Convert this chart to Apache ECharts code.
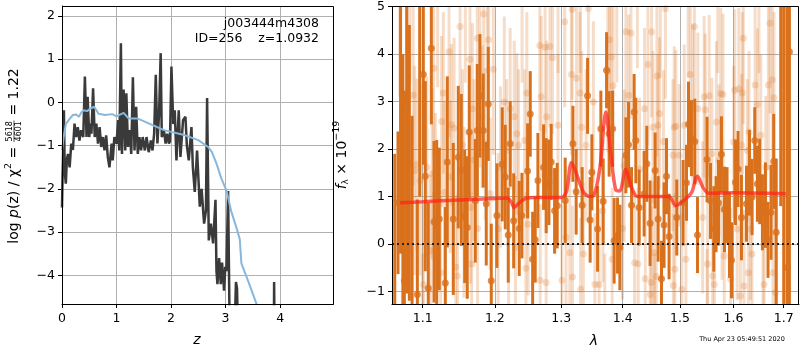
<!DOCTYPE html>
<html>
<head>
<meta charset="utf-8">
<script src="https://cdn.jsdelivr.net/npm/echarts@6/dist/echarts.min.js"></script>
<style>
  html, body { margin: 0; padding: 0; background: #fff; }
  #chart { width: 800px; height: 350px; }
</style>
</head>
<body>
<div id="chart"></div>
<script>
// ---- left panel: log p(z) ----
const pzZ = [0.00, 0.01, 0.02, 0.035, 0.05, 0.07, 0.09, 0.11, 0.14, 0.17,
  0.20, 0.23, 0.26, 0.29, 0.32, 0.35, 0.39, 0.42, 0.45, 0.47,
  0.50, 0.52, 0.54, 0.57, 0.60, 0.63, 0.66, 0.69, 0.72, 0.75,
  0.78, 0.81, 0.84, 0.87, 0.91, 0.93, 0.96, 1.00, 1.03, 1.05,
  1.08, 1.10, 1.13, 1.16, 1.18, 1.21, 1.24, 1.27, 1.30, 1.33,
  1.36, 1.39, 1.42, 1.45, 1.48, 1.52, 1.55, 1.59, 1.63, 1.66,
  1.69, 1.72, 1.75, 1.78, 1.81, 1.83, 1.87, 1.90, 1.93, 1.96,
  1.98, 2.007, 2.04, 2.068, 2.099, 2.141, 2.172, 2.22, 2.264, 2.29,
  2.325, 2.374, 2.40, 2.435, 2.477, 2.527, 2.56, 2.606, 2.64, 2.661,
  2.692, 2.73, 2.771, 2.815, 2.833, 2.851, 2.881, 2.912, 2.935, 2.954,
  2.972, 2.995, 3.016, 3.046, 3.077, 3.15, 3.19, 3.21, 3.23, 3.30,
  3.88, 3.89, 3.91]
const pzLog = [-2.43, -1.73, -1.20, -0.18, -1.60, -1.88, -1.30, -1.19, -1.50, -0.95,
  -1.10, -0.49, -0.80, -0.57, -0.88, -0.64, -0.80, 0.60, -0.80, 0.13,
  -0.80, -0.49, -0.72, 0.33, -0.80, -0.49, -0.95, -0.57, -1.03, -0.80,
  -1.11, -0.76, -1.26, -1.50, -0.95, -1.34, -0.80, -0.95, -0.41, -1.11,
  1.37, -1.19, 0.30, -1.11, 0.21, -1.03, -0.64, -1.19, 0.58, -1.11,
  -0.10, -1.19, -0.80, -1.11, -0.80, -1.11, -0.80, -1.15, -0.88, -1.11,
  -0.72, 0.64, -0.95, -0.26, 1.14, -0.80, -0.64, -0.95, -0.72, -0.95,
  -0.90, 0.83, -0.50, -0.18, -1.34, -0.18, -1.26, -0.41, -0.33, -1.00,
  -1.34, -0.57, -1.50, -2.07, -1.11, -2.41, -2.00, -2.80, -2.50, 0.10,
  -3.19, -2.80, -3.26, -2.25, -3.90, -4.20, -3.60, -4.20, -3.70, -4.00,
  -4.35, -3.80, -3.90, -2.05, -5.50, -6.00, -4.15, -4.30, -5.50, -7.00,
  -7.00, -4.15, -7.00]

const smoothZ = [0.00, 0.03, 0.07, 0.14, 0.20, 0.26, 0.31, 0.36, 0.40, 0.46,
  0.52, 0.59, 0.64, 0.67, 0.79, 0.92, 1.00, 1.13, 1.22, 1.38,
  1.60, 1.87, 2.26, 2.50, 2.68, 2.75, 2.83, 2.92, 3.02, 3.10,
  3.20, 3.26, 3.29, 3.42, 3.57, 3.65]
const smoothLog = [-1.10, -0.80, -0.50, -0.38, -0.29, -0.28, -0.33, -0.22, -0.18, -0.20,
  -0.14, -0.10, -0.20, -0.26, -0.29, -0.27, -0.32, -0.24, -0.37, -0.37,
  -0.49, -0.64, -0.76, -0.87, -1.03, -1.15, -1.40, -1.75, -2.05, -2.50,
  -2.90, -3.16, -3.72, -4.15, -4.67, -5.10]

const zTicks = [0, 1, 2, 3, 4]
const pzTicks = [-4, -3, -2, -1, 0, 1, 2]

// ---- right panel: spectrum ----
const darkLam = [1.0635, 1.0677, 1.0710, 1.0740, 1.0759, 1.0790, 1.0824, 1.0860, 1.0929, 1.0960,
  1.1008, 1.1034, 1.1074, 1.1115, 1.1151, 1.1187, 1.1222, 1.1304, 1.1331, 1.1413,
  1.1482, 1.1524, 1.1571, 1.1607, 1.1635, 1.1720, 1.1748, 1.1786, 1.1833, 1.1876,
  1.1905, 1.1948, 1.2030, 1.2107, 1.2151, 1.2195, 1.2224, 1.2275, 1.2358, 1.2398,
  1.2483, 1.2523, 1.2559, 1.2598, 1.2639, 1.2726, 1.2766, 1.2808, 1.2843, 1.2896,
  1.2937, 1.3062, 1.3184, 1.3236, 1.3332, 1.3419, 1.3461, 1.3489, 1.3582, 1.3636,
  1.3674, 1.3730, 1.3773, 1.3830, 1.3856, 1.3913, 1.3952, 1.4053, 1.4099, 1.4150,
  1.4194, 1.4223, 1.4280, 1.4366, 1.4413, 1.4470, 1.4558, 1.4611, 1.4670, 1.4716,
  1.4759, 1.4805, 1.4943, 1.5057, 1.5119, 1.5156, 1.5210, 1.5271, 1.5321, 1.5499,
  1.5563, 1.5625, 1.5668, 1.5714, 1.5770, 1.5828, 1.5877, 1.5923, 1.5962, 1.6039,
  1.6089, 1.6155, 1.6253, 1.6312, 1.6363, 1.6416, 1.6469, 1.6515, 1.6569, 1.6629,
  1.6681, 1.6742, 1.6796, 1.6847, 1.6939, 1.7000, 1.7068, 1.7117]
const darkFlux = [-1.50, 0.87, 5.80, -2.00, -0.77, 2.96, 1.71, -1.80, -1.06, 5.50,
  3.57, 1.43, -0.93, 4.12, 0.47, 0.39, 0.53, -0.82, 1.73, 0.53,
  1.83, 1.56, 0.58, 0.35, 2.36, 0.91, 2.39, 3.12, 2.39, 0.85,
  2.95, -0.77, 0.60, 1.68, 1.41, 0.19, 2.11, 0.49, 0.33, 0.60,
  1.54, 2.74, -0.32, 0.09, 1.34, 1.62, 1.23, 1.30, 1.73, 0.70,
  0.81, 0.92, 2.11, 1.10, 0.82, 3.12, 0.51, 1.51, 0.32, 2.43,
  0.90, 3.66, 2.32, 2.43, 0.07, 0.18, -0.07, 1.87, 2.09, 0.82,
  2.78, 2.18, 0.77, 1.06, 1.69, 0.44, 1.55, 0.53, -0.73, 0.40,
  1.43, 0.16, 0.56, 0.87, 1.29, 2.52, 2.23, 2.16, 0.19, 1.78,
  0.91, 0.32, 0.63, 0.87, 1.89, 0.73, 0.82, 0.19, -0.34, 1.30,
  1.58, 0.56, 0.85, 1.50, 0.99, 2.18, 1.27, 1.32, 0.67, 0.82,
  0.09, 0.67, 1.74, 0.25, 5.80, -1.80, -0.49, 4.05]
const darkErr = [3.4, 1.5, 6.0, 6.0, 4.0, 4.0, 2.9, 4.5, 2.0, 4.5,
  1.9, 2.0, 1.8, 1.6, 1.7, 1.8, 1.5, 1.6, 1.8, 1.6,
  1.5, 1.6, 1.4, 1.5, 1.4, 1.3, 1.4, 1.3, 1.2, 1.3,
  1.2, 1.2, 1.1, 1.2, 1.1, 1.0, 0.9, 1.0, 1.0, 0.9,
  1.0, 0.9, 1.0, 0.9, 1.0, 0.9, 1.0, 0.9, 0.8, 0.9,
  0.9, 0.9, 0.8, 0.9, 0.8, 0.8, 0.9, 0.8, 0.9, 0.8,
  0.9, 0.8, 0.9, 0.8, 0.9, 0.8, 0.9, 0.8, 0.9, 0.8,
  0.8, 0.9, 0.8, 0.9, 0.8, 0.9, 0.8, 0.9, 0.8, 0.9,
  0.8, 0.9, 0.8, 0.9, 0.8, 0.9, 0.8, 0.9, 0.8, 0.9,
  0.8, 0.9, 0.8, 0.9, 0.8, 0.9, 0.8, 0.9, 0.8, 0.9,
  0.8, 0.9, 0.8, 0.9, 0.8, 0.7, 0.8, 0.9, 0.8, 0.9,
  0.8, 1.0, 1.0, 1.55, 5.0, 7.5, 5.5, 5.5]

const lightLam = [1.0789, 1.0874, 1.0894, 1.0924, 1.0966, 1.1008, 1.1055, 1.1101, 1.1125, 1.1147,
  1.1170, 1.1240, 1.1253, 1.1277, 1.1295, 1.1355, 1.1371, 1.1388, 1.1424, 1.1447,
  1.1471, 1.1507, 1.1540, 1.1562, 1.1645, 1.1655, 1.1669, 1.1679, 1.1701, 1.1748,
  1.1752, 1.1784, 1.1817, 1.1839, 1.1863, 1.1909, 1.1932, 1.1978, 1.2047, 1.2081,
  1.2137, 1.2171, 1.2223, 1.2283, 1.2302, 1.2322, 1.2347, 1.2438, 1.2457, 1.2472,
  1.2490, 1.2668, 1.2674, 1.2689, 1.2749, 1.2765, 1.2773, 1.2824, 1.2863, 1.2949,
  1.3010, 1.3054, 1.3075, 1.3135, 1.3161, 1.3172, 1.3177, 1.3242, 1.3298, 1.3307,
  1.3324, 1.3351, 1.3395, 1.3433, 1.3514, 1.3538, 1.3607, 1.3670, 1.3750, 1.3779,
  1.3806, 1.3823, 1.3839, 1.3997, 1.4024, 1.4054, 1.4101, 1.4141, 1.4202, 1.4263,
  1.4286, 1.4374, 1.4386, 1.4433, 1.4473, 1.4490, 1.4496, 1.4520, 1.4531, 1.4578,
  1.4590, 1.4607, 1.4635, 1.4705, 1.4740, 1.4874, 1.4881, 1.4897, 1.4909, 1.4927,
  1.4984, 1.5034, 1.5077, 1.5108, 1.5189, 1.5234, 1.5264, 1.5327, 1.5417, 1.5445,
  1.5464, 1.5510, 1.5538, 1.5589, 1.5604, 1.5636, 1.5675, 1.5725, 1.5757, 1.5781,
  1.5800, 1.5823, 1.5943, 1.6006, 1.6026, 1.6072, 1.6105, 1.6135, 1.6159, 1.6171,
  1.6191, 1.6205, 1.6270, 1.6290, 1.6304, 1.6334, 1.6362, 1.6423, 1.6469, 1.6536,
  1.6602, 1.6636, 1.6688, 1.6722, 1.6767, 1.6781, 1.6801, 1.6831,
  // points that sit outside the plot, only the bars show
  1.0700, 1.0830, 1.1000, 1.1200, 1.1580, 1.1890, 1.2200, 1.2400, 1.2950, 1.3300,
  1.3700, 1.3900, 1.4250, 1.4550, 1.4650, 1.5150, 1.5500, 1.5700, 1.6500, 1.6580,
  1.6950, 1.7050]
const lightFlux = [3.13, 3.13, 1.55, 1.68, 1.34, -0.85, 1.62, -0.14, 1.48, 3.70,
  1.06, -0.60, 2.58, 3.18, 1.09, 4.05, 1.41, 2.51, 2.44, -0.48,
  -0.67, 4.58, 2.08, 0.67, 3.89, 0.77, -0.42, 2.85, 1.77, 4.33,
  0.33, 3.31, 2.68, 4.84, 2.11, 4.30, 1.06, 3.68, 0.32, 1.62,
  2.99, 1.97, 2.85, 2.68, -0.07, 2.32, 2.08, 2.18, -0.51, 3.18,
  0.42, 4.18, -0.76, 3.10, 4.14, -0.81, 2.68, 4.16, 3.92, 2.50,
  -0.76, 4.68, 0.14, -0.18, 3.57, 4.94, -0.69, 3.49, 3.18, -0.95,
  2.46, -0.21, 2.08, 4.96, 2.99, -0.85, -0.85, 0.70, 3.63, 4.30,
  3.94, -0.32, 3.33, 0.33, 1.65, 4.47, 3.13, 4.44, -0.39, -0.42,
  1.58, 2.85, -0.73, 3.78, -1.06, -0.81, 4.47, 2.46, -0.18, -0.68,
  3.54, 2.50, 2.75, 2.16, 4.96, 1.87, -0.87, 2.46, -0.53, 2.48,
  1.87, -0.95, 2.50, -0.32, 3.57, 2.92, 4.58, 2.85, 0.56, 3.10,
  2.83, -0.42, 3.12, 1.90, -0.67, -0.85, 2.57, 1.76, 3.17, 0.75,
  3.15, -0.25, -0.74, 2.15, 3.24, 0.32, 3.27, -1.09, 2.08, 3.18,
  4.33, -0.88, 1.97, -0.60, 2.36, 0.32, -0.21, 3.35, 2.94, 2.29,
  -0.85, 1.62, 3.35, 4.65, 3.46, -0.60, 3.08, -1.02,
  5.6, 5.8, -2.0, 5.5, 5.4, 5.5, -1.8, 5.3, 5.4, 5.5,
  -1.7, 5.2, 5.4, -1.8, 5.3, 5.4, -1.7, 5.3, 5.5, -1.9,
  5.6, 5.5]
const lightErr = [2.0, 1.9, 2.2, 1.8, 2.0, 1.7, 1.9, 1.6, 1.8, 1.9,
  1.7, 1.6, 1.8, 1.7, 1.9, 1.8, 1.6, 1.7, 1.9, 1.5,
  1.7, 1.8, 1.6, 1.8, 1.7, 1.6, 1.5, 1.8, 1.7, 1.9,
  1.6, 1.7, 1.5, 1.8, 1.6, 1.7, 1.6, 1.8, 1.6, 1.7,
  1.8, 1.5, 1.7, 1.6, 1.5, 1.7, 1.6, 1.5, 1.6, 1.7,
  1.5, 1.8, 1.6, 1.7, 1.8, 1.5, 1.6, 1.7, 1.6, 1.5,
  1.6, 1.8, 1.5, 1.6, 1.7, 1.9, 1.5, 1.6, 1.7, 1.5,
  1.6, 1.5, 1.6, 1.8, 1.7, 1.5, 1.6, 1.5, 1.7, 1.8,
  1.6, 1.5, 1.7, 1.5, 1.6, 1.8, 1.7, 1.8, 1.5, 1.6,
  1.5, 1.7, 1.6, 1.7, 1.5, 1.6, 1.8, 1.6, 1.5, 1.6,
  1.7, 1.5, 1.6, 1.5, 1.9, 1.6, 1.5, 1.7, 1.6, 1.6,
  1.5, 1.6, 1.7, 1.5, 1.8, 1.7, 1.8, 1.6, 1.6, 1.7,
  1.6, 1.5, 1.7, 1.6, 1.5, 1.6, 1.7, 1.6, 1.8, 1.5,
  1.7, 1.6, 1.5, 1.6, 1.7, 1.5, 1.7, 1.6, 1.5, 1.7,
  1.8, 1.6, 1.5, 1.6, 1.7, 1.5, 1.6, 1.7, 1.6, 1.7,
  1.6, 1.5, 1.8, 1.9, 1.7, 1.6, 1.8, 1.7,
  2.5, 2.4, 1.8, 2.2, 2.0, 1.9, 1.6, 1.9, 1.8, 1.9,
  1.5, 1.8, 1.7, 1.6, 1.8, 1.9, 1.6, 1.7, 1.9, 1.8,
  2.3, 2.5]

const modelLam = [1.0703, 1.10, 1.15, 1.20, 1.218, 1.224, 1.2284, 1.235, 1.245, 1.26,
  1.30, 1.308, 1.3163, 1.325, 1.335, 1.345, 1.352, 1.362, 1.3718, 1.380,
  1.388, 1.395, 1.405, 1.415, 1.425, 1.48, 1.4926, 1.505, 1.515, 1.522,
  1.532, 1.542, 1.553, 1.60, 1.704]
const modelFlux = [0.87, 0.89, 0.93, 0.96, 0.97, 0.88, 0.77, 0.86, 0.96, 0.98,
  0.98, 1.10, 1.72, 1.45, 1.10, 1.00, 1.02, 1.60, 2.78, 1.90,
  1.15, 1.12, 1.57, 1.20, 1.00, 1.00, 0.81, 0.90, 1.00, 1.10,
  1.43, 1.20, 1.07, 1.08, 1.06]

const lamTicks = [1.1, 1.2, 1.3, 1.4, 1.5, 1.6, 1.7]
const fluxTicks = [-1, 0, 1, 2, 3, 4, 5]

const lamMin = 1.0600, lamMax = 1.7316
const fluxMin = -1.26, fluxMax = 5

const FONT = 'DejaVu Sans'
const ORANGE = '#d9711c'
const ORANGE_LIGHT = 'rgba(217, 113, 28, 0.24)'
const GRID_GREY = '#b0b0b0'

const minus = v => String(v).replace('-', '\u2212')

// measure text for the hand-built axis titles
const ctx = document.createElement('canvas').getContext('2d')
function textWidth(str, size, style) {
  ctx.font = (style || 'normal') + ' ' + size + 'px "' + FONT + '"'
  return ctx.measureText(str).width
}

function textEl(str, x, y, size, opts) {
  opts = opts || {}
  return {
    type: 'text', x: x, y: y,
    style: {
      text: str, fill: '#000',
      font: (opts.style || 'normal') + ' ' + size + 'px "' + FONT + '"',
      align: opts.align || 'left', verticalAlign: 'middle'
    }
  }
}

// a rotated (bottom-to-top) label made of pieces, some small / raised / a fraction
function verticalLabel(cx, cy, pieces) {
  let total = 0
  pieces.forEach(p => {
    if (p.frac) p.w = Math.max(textWidth(p.num, p.size), textWidth(p.den, p.size)) + 2
    else p.w = textWidth(p.text, p.size, p.style)
    total += p.w
  })
  let x = -total / 2
  const children = []
  pieces.forEach(p => {
    if (p.frac) {
      children.push(textEl(p.num, x + p.w / 2, -4.5, p.size, { align: 'center' }))
      children.push(textEl(p.den, x + p.w / 2, 4.5, p.size, { align: 'center' }))
      children.push({ type: 'line', shape: { x1: x + 0.5, y1: 0, x2: x + p.w - 0.5, y2: 0 }, style: { stroke: '#000', lineWidth: 0.7 } })
    } else {
      children.push(textEl(p.text, x, p.dy || 0, p.size, { style: p.style }))
    }
    x += p.w
  })
  return { type: 'group', x: cx, y: cy, rotation: Math.PI / 2, children: children }
}

function errorBars(lam, flux, err, color, z) {
  return {
    type: 'custom', xAxisIndex: 1, yAxisIndex: 1, z: z, silent: true,
    data: lam.map((l, i) => [Math.log(l), flux[i], err[i]]),
    encode: { x: 0, y: 1 },
    renderItem: (params, api) => {
      const x = api.value(0), y = api.value(1), e = api.value(2)
      const lo = Math.max(y - e, fluxMin), hi = Math.min(y + e, fluxMax)
      if (lo >= hi) return null
      const p1 = api.coord([x, lo]), p2 = api.coord([x, hi])
      return {
        type: 'line',
        shape: { x1: p1[0], y1: p1[1], x2: p2[0], y2: p2[1] },
        style: { stroke: color, lineWidth: 3 }
      }
    }
  }
}

const tickLabel = { color: '#000', fontSize: 12.5, fontFamily: FONT }
const axisLineStyle = { show: true, onZero: false, lineStyle: { color: '#000', width: 1 } }
const tickStyle = { show: true, inside: false, length: 4, lineStyle: { color: '#000', width: 1 } }
const splitStyle = { show: true, lineStyle: { color: GRID_GREY, width: 1 } }

let chart = echarts.init(document.getElementById('chart'))
chart.setOption({
  animation: false,
  backgroundColor: '#fff',
  grid: [
    { left: 62, top: 6, width: 271, height: 298 },
    { left: 392, top: 6, width: 407, height: 298 }
  ],
  xAxis: [
    {
      type: 'value', gridIndex: 0, min: 0, max: 4.97,
      axisLine: axisLineStyle,
      axisTick: Object.assign({ customValues: zTicks }, tickStyle),
      splitLine: Object.assign({ customValues: zTicks }, splitStyle),
      axisLabel: Object.assign({ margin: 8, customValues: zTicks, formatter: v => minus(v) }, tickLabel)
    },
    {
      type: 'value', gridIndex: 1, min: Math.log(lamMin), max: Math.log(lamMax),
      axisLine: axisLineStyle,
      axisTick: Object.assign({ customValues: lamTicks.map(Math.log) }, tickStyle),
      splitLine: Object.assign({ customValues: lamTicks.map(Math.log) }, splitStyle),
      axisLabel: Object.assign({
        margin: 8, customValues: lamTicks.map(Math.log),
        formatter: v => Math.exp(v).toFixed(1)
      }, tickLabel)
    }
  ],
  yAxis: [
    {
      type: 'value', gridIndex: 0, min: -4.66, max: 2.23,
      axisLine: axisLineStyle,
      axisTick: Object.assign({ customValues: pzTicks }, tickStyle),
      splitLine: Object.assign({ customValues: pzTicks }, splitStyle),
      axisLabel: Object.assign({ margin: 7, customValues: pzTicks, formatter: v => minus(v) }, tickLabel)
    },
    {
      type: 'value', gridIndex: 1, min: fluxMin, max: fluxMax,
      axisLine: axisLineStyle,
      axisTick: Object.assign({ customValues: fluxTicks }, tickStyle),
      splitLine: Object.assign({ customValues: fluxTicks }, splitStyle),
      axisLabel: Object.assign({ margin: 7, customValues: fluxTicks, formatter: v => minus(v) }, tickLabel)
    }
  ],
  series: [
    {
      name: 'log p(z)', type: 'line', xAxisIndex: 0, yAxisIndex: 0, z: 3,
      data: pzZ.map((z, i) => [z, pzLog[i]]),
      showSymbol: false, clip: true,
      lineStyle: { color: '#3a3a3a', width: 2.5 }
    },
    {
      name: 'smooth', type: 'line', xAxisIndex: 0, yAxisIndex: 0, z: 4,
      data: smoothZ.map((z, i) => [z, smoothLog[i]]),
      showSymbol: false, clip: true,
      lineStyle: { color: '#88b7dc', width: 2 }
    },
    errorBars(lightLam, lightFlux, lightErr, ORANGE_LIGHT, 1),
    {
      name: 'light', type: 'scatter', xAxisIndex: 1, yAxisIndex: 1, z: 2,
      data: lightLam.map((l, i) => [Math.log(l), lightFlux[i]]),
      symbolSize: 7, clip: true,
      itemStyle: { color: 'rgba(217, 113, 28, 0.28)' }
    },
    errorBars(darkLam, darkFlux, darkErr, ORANGE, 3),
    {
      name: 'dark', type: 'scatter', xAxisIndex: 1, yAxisIndex: 1, z: 4,
      data: darkLam.map((l, i) => [Math.log(l), darkFlux[i]]),
      symbolSize: 7, clip: true,
      itemStyle: { color: ORANGE }
    },
    {
      name: 'model', type: 'line', xAxisIndex: 1, yAxisIndex: 1, z: 6,
      data: modelLam.map((l, i) => [Math.log(l), modelFlux[i]]),
      smooth: 0.3, showSymbol: false,
      lineStyle: { color: 'rgba(255, 35, 25, 0.72)', width: 3.5 },
      markLine: {
        silent: true, symbol: 'none', label: { show: false },
        lineStyle: { color: '#222', width: 2, type: [2, 3] },
        data: [{ yAxis: 0 }]
      }
    }
  ],
  graphic: [
    // axes frames
    { type: 'rect', z: 100, silent: true, shape: { x: 62.5, y: 6.5, width: 271, height: 298 }, style: { fill: 'none', stroke: '#000', lineWidth: 1 } },
    { type: 'rect', z: 100, silent: true, shape: { x: 392.5, y: 6.5, width: 406, height: 298 }, style: { fill: 'none', stroke: '#000', lineWidth: 1 } },
    // annotation
    Object.assign(textEl('j003444m4308', 319, 24, 12.5, { align: 'right' }), { z: 100 }),
    Object.assign(textEl('ID=256    z=1.0932', 319, 39, 12.5, { align: 'right' }), { z: 100 }),
    // axis titles
    textEl('z', 197, 340, 14, { style: 'italic', align: 'center' }),
    textEl('\u03bb', 594, 341, 14, { style: 'italic', align: 'center' }),
    verticalLabel(14, 156, [
      { text: 'log ', size: 14 },
      { text: 'p', size: 14, style: 'italic' },
      { text: '(z) / ', size: 14 },
      { text: '\u03c7', size: 14 },
      { text: '2', size: 9.5, dy: -5 },
      { text: ' = ', size: 14 },
      { frac: true, num: '5618', den: '4601', size: 8 },
      { text: ' = 1.22', size: 14 }
    ]),
    verticalLabel(342, 155, [
      { text: 'f', size: 14, style: 'italic' },
      { text: '\u03bb', size: 9, dy: 4 },
      { text: ' \u00d7 10', size: 14 },
      { text: '\u221219', size: 9.5, dy: -5 }
    ]),
    textEl('Thu Apr 23 05:49:51 2020', 742, 339, 6.5, { align: 'center' })
  ]
})

window.addEventListener('resize', () => {
  chart.resize()
})
</script>
</body>
</html>
